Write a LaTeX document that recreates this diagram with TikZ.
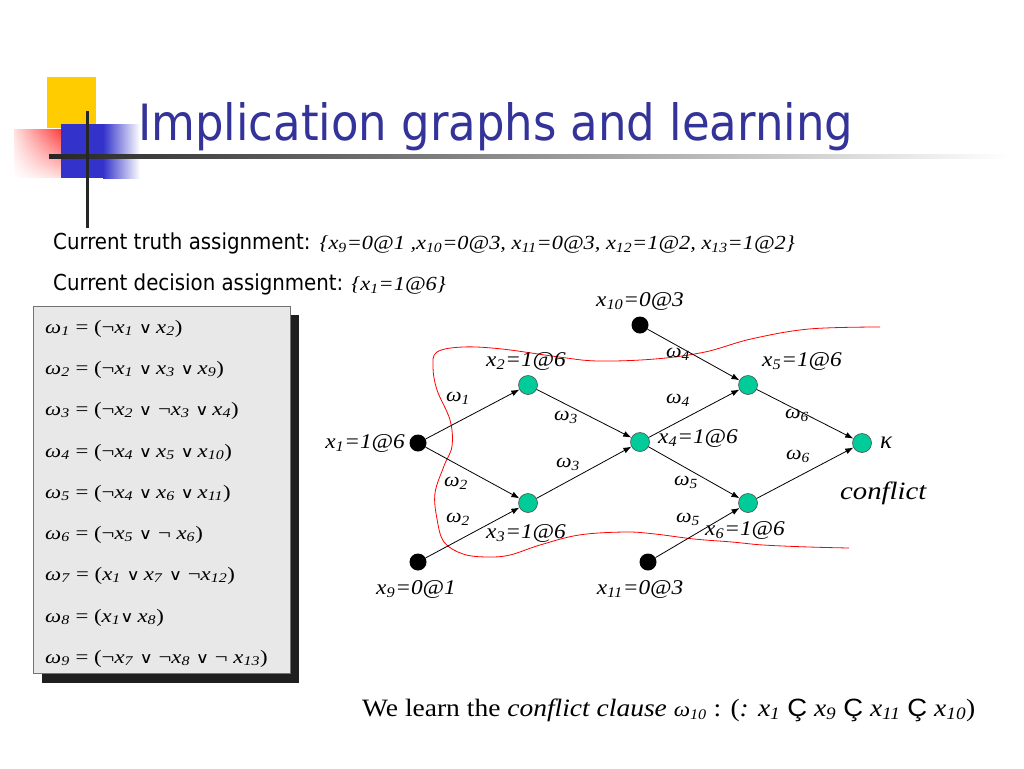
\documentclass[tikz,border=0pt]{standalone}
\usepackage{fontspec}
\setmainfont{Liberation Serif}
\newfontfamily\tah{DejaVu Sans Condensed}
\newfontfamily\dvs{DejaVu Serif}
\newfontfamily\ars{Liberation Sans}
\usetikzlibrary{arrows.meta,shadings}
\definecolor{logoyellow}{RGB}{255,204,0}
\definecolor{logoblue}{RGB}{51,51,204}
\definecolor{titleblue}{RGB}{51,51,153}
\definecolor{nodegreen}{RGB}{0,204,153}
\definecolor{boxgrey}{RGB}{232,232,232}
\newcommand\ssb[1]{\textsubscript{#1}}
\newcommand\vx[1]{\textit{x}\ssb{\textit{#1}}}
\newcommand\om[1]{\textit{ω}\ssb{\textit{#1}}}
\newcommand\myor{{\dvs\upshape\scalebox{0.8}{∨}}}
\newcommand\lnt{¬}
\newcommand\hs[2]{\scalebox{#1}[1]{#2}}
\begin{document}
\begin{tikzpicture}[x=1pt,y=-1pt,
  blk/.style={circle,fill=black,minimum size=17pt,inner sep=0pt},
  grn/.style={circle,fill=nodegreen,draw=black!70,line width=0.6pt,minimum size=19pt,inner sep=0pt},
  lbl/.style={font=\fontsize{21}{24}\selectfont\itshape,inner sep=0pt},
  wl/.style={font=\fontsize{20}{24}\selectfont\itshape,inner sep=0pt},
  cl/.style={font=\fontsize{19}{22}\selectfont,anchor=base west,inner sep=0pt},
  edge/.style={-{Latex[length=8pt,width=6pt]},line width=0.8pt}]
\useasboundingbox (0,0) rectangle (1024,768);
\fill[white] (0,0) rectangle (1024,768);
% logo
\fill[logoyellow] (47,77) rectangle (96,128);
\shade[upper left=red!12,upper right=red,lower left=white,lower right=red!18] (14,129) rectangle (78,177);
\fill[logoblue] (61,124) rectangle (103,178);
\shade[left color=logoblue,right color=white] (103,124) rectangle (140,178);
\shade[left color=black!85,middle color=black!40,right color=white] (49,154) rectangle (1010,158);
\fill[black!85] (85.5,111) rectangle (88.5,228);
% title
\node[anchor=base west,inner sep=0pt,text=titleblue,font=\fontsize{50}{58}\selectfont\tah] (title) at (138,140) {Implication graphs and learning};
% assignments
\node[anchor=base west,inner sep=0pt] (truth) at (53,249) {{\tah\fontsize{22}{26}\selectfont Current truth assignment:}\hspace{9pt}\hs{1.12}{\fontsize{20}{24}\selectfont\itshape \{\vx{9}=0@1 ,\vx{10}=0@3, \vx{11}=0@3, \vx{12}=1@2, \vx{13}=1@2\}}};
\node[anchor=base west,inner sep=0pt] (decision) at (53,290) {{\tah\fontsize{22}{26}\selectfont Current decision assignment:}\hspace{8pt}\hs{1.12}{\fontsize{20}{24}\selectfont\itshape \{\vx{1}=1@6\}}};
% clause box
\fill[black!88] (42,315) rectangle (299,683);
\draw[fill=boxgrey,draw=black!55,line width=0.8pt] (33,306) rectangle (290,673);
\node[cl] (c1) at (45,333) {\hs{1.2}{\om{1} = (\lnt\vx{1} \myor\,\vx{2})}};
\node[cl] (c2) at (45,374) {\hs{1.2}{\om{2} = (\lnt\vx{1} \myor\,\vx{3} \myor\,\vx{9})}};
\node[cl] (c3) at (45,415) {\hs{1.2}{\om{3} = (\lnt\vx{2} \myor\ \lnt\vx{3} \myor\,\vx{4})}};
\node[cl] (c4) at (45,457) {\hs{1.2}{\om{4} = (\lnt\vx{4} \myor\,\vx{5} \myor\,\vx{10})}};
\node[cl] (c5) at (45,498) {\hs{1.2}{\om{5} = (\lnt\vx{4} \myor\,\vx{6} \myor\,\vx{11})}};
\node[cl] (c6) at (45,539) {\hs{1.2}{\om{6} = (\lnt\vx{5} \myor\ \lnt\ \vx{6})}};
\node[cl] (c7) at (45,580) {\hs{1.2}{\om{7} = (\vx{1} \myor\,\vx{7} \myor\ \lnt\vx{12})}};
\node[cl] (c8) at (45,622) {\hs{1.2}{\om{8} = (\vx{1}\myor\,\vx{8})}};
\node[cl] (c9) at (45,663) {\hs{1.2}{\om{9} = (\lnt\vx{7} \myor\ \lnt\vx{8} \myor\ \lnt\ \vx{13})}};
% red cut
\draw[red,line width=0.8pt] plot[smooth,tension=0.6] coordinates {(880,327) (809,329) (751,339) (705,352) (655,359) (598,361) (559,357) (502,349) (463,347) (437,352) (433,367) (437,390) (450,420) (452,446) (444,466) (435,493) (437,519) (444,542) (463,554) (487,557) (510,555) (540,545) (579,535) (625,532) (655,534) (694,539) (732,542) (763,545) (809,547) (849,548)};
% nodes
\node[blk] (n10) at (640,325) {};
\node[grn] (n2) at (528,385) {};
\node[blk] (n1) at (418,443) {};
\node[grn] (n4) at (640,442) {};
\node[grn] (n3) at (528,503) {};
\node[grn] (n5) at (748,385) {};
\node[grn] (n6) at (748,503) {};
\node[grn] (k) at (862,443) {};
\node[blk] (n9) at (418,562) {};
\node[blk] (n11) at (648,562) {};
% labels
\node[lbl] (l10) at (640,301) {\hs{1.11}{\vx{10}=0@3}};
\node[lbl] (l2) at (526,361) {\hs{1.11}{\vx{2}=1@6}};
\node[lbl,anchor=east] (l1) at (405,443) {\hs{1.11}{\vx{1}=1@6}};
\node[lbl,anchor=west] (l4) at (658,438) {\hs{1.11}{\vx{4}=1@6}};
\node[lbl] (l3) at (526,533) {\hs{1.11}{\vx{3}=1@6}};
\node[lbl,anchor=west] (l5) at (762,361) {\hs{1.11}{\vx{5}=1@6}};
\node[lbl] (l6) at (745,530) {\hs{1.11}{\vx{6}=1@6}};
\node[lbl,anchor=west,font=\fontsize{25}{28}\selectfont\itshape] (lk) at (880,443) {κ};
\node[lbl,anchor=west,font=\fontsize{25}{28}\selectfont\itshape] (conf) at (840,493) {\hs{1.15}{conflict}};
\node[lbl] (l9) at (416,589) {\hs{1.11}{\vx{9}=0@1}};
\node[lbl] (l11) at (640,589) {\hs{1.11}{\vx{11}=0@3}};
% edges
\draw[edge] (n1) -- (n2);
\draw[edge] (n1) -- (n3);
\draw[edge] (n9) -- (n3);
\draw[edge] (n2) -- (n4);
\draw[edge] (n3) -- (n4);
\draw[edge] (n10) -- (n5);
\draw[edge] (n4) -- (n5);
\draw[edge] (n4) -- (n6);
\draw[edge] (n11) -- (n6);
\draw[edge] (n5) -- (k);
\draw[edge] (n6) -- (k);
% edge labels
\node[wl] (w1) at (458,398) {\hs{1.1}{\om{1}}};
\node[wl] (w2a) at (456,483) {\hs{1.1}{\om{2}}};
\node[wl] (w2b) at (458,519) {\hs{1.1}{\om{2}}};
\node[wl] (w3a) at (566,417) {\hs{1.1}{\om{3}}};
\node[wl] (w3b) at (568,464) {\hs{1.1}{\om{3}}};
\node[wl] (w4a) at (678,354) {\hs{1.1}{\om{4}}};
\node[wl] (w4b) at (678,400) {\hs{1.1}{\om{4}}};
\node[wl] (w5a) at (686,482) {\hs{1.1}{\om{5}}};
\node[wl] (w5b) at (688,519) {\hs{1.1}{\om{5}}};
\node[wl] (w6a) at (797,415) {\hs{1.1}{\om{6}}};
\node[wl] (w6b) at (798,456) {\hs{1.1}{\om{6}}};
% learned clause
\node[anchor=base west,inner sep=0pt,font=\fontsize{25}{30}\selectfont] (learn) at (362,716) {\hs{1.1}{We learn the \textit{conflict clause} {\fontsize{21}{24}\selectfont\om{10}} : (\textit{:} \vx{1} {\ars Ç} \vx{9} {\ars Ç} \vx{11} {\ars Ç} \vx{10})}};
\end{tikzpicture}
\end{document}
